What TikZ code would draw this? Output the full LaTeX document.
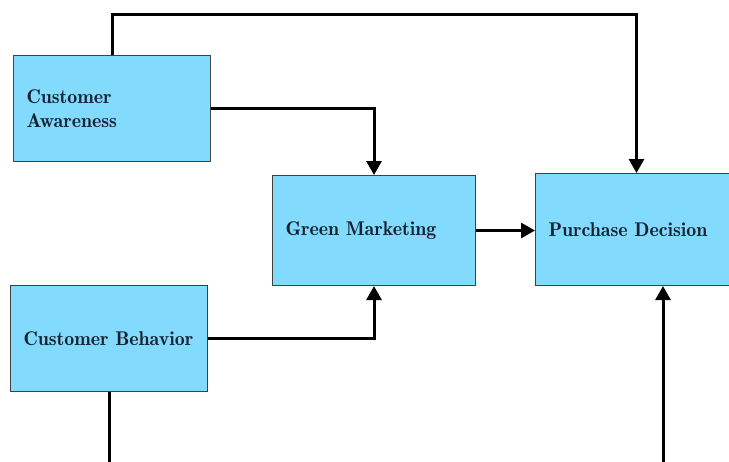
\documentclass[tikz,border=0pt]{standalone}
\usetikzlibrary{arrows.meta}
\definecolor{boxblue}{RGB}{130,218,253}
\definecolor{boxtext}{RGB}{22,34,48}
\begin{document}
\begin{tikzpicture}[x=0.02cm,y=-0.02cm,
  box/.style={draw=black!75,line width=0.6pt,fill=boxblue,anchor=north west,inner xsep=0.26cm,align=flush left,text=boxtext,font=\fontseries{b}\fontsize{11.3}{13.6}\selectfont},
  link/.style={line width=1.7pt},
  conn/.style={link,-{Triangle[length=2.8mm,width=3mm]}}]
\useasboundingbox (0,0) rectangle (729,461);
\clip (0,0) rectangle (729,461);
%boxes
\node[box,text width=3.42cm,minimum height=2.12cm] (ca) at (13,55) {Customer\\Awareness};
\node[box,text width=3.54cm,minimum height=2.2cm] (gm) at (272,175) {Green Marketing};
\node[box,text width=3.52cm,minimum height=2.24cm] (pd) at (535,173) {Purchase Decision};
\node[box,text width=3.42cm,minimum height=2.12cm] (cb) at (10,285) {Customer Behavior};
%links
\coordinate (low) at (0,470);
\coordinate (pdin) at (663,470);
\draw[conn] (ca.north) -- ++(0,-41) -| (pd.north);
\draw[conn] (ca.east) -| (gm.north);
\draw[conn] (cb.east) -| (gm.south);
\draw[conn] (gm.east) -- (gm.east -| pd.west);
\draw[link] (cb.south) -- (cb.south |- low);
\draw[conn] (pdin) -- (pdin |- pd.south);
\end{tikzpicture}
\end{document}
